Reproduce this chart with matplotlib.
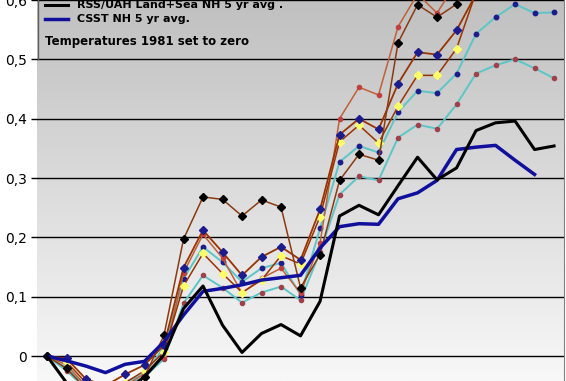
import numpy as np
import matplotlib.pyplot as plt

years = list(range(1981, 2008))

# thick lines (legend entries)
rss_uah_nh = [0.0, -0.045, -0.07, -0.075, -0.06, -0.035, 0.002, 0.08, 0.118, 0.052,
              0.006, 0.038, 0.053, 0.034, 0.092, 0.236, 0.254, 0.238, 0.287, 0.335,
              0.297, 0.317, 0.38, 0.393, 0.396, 0.348, 0.354]
csst_nh = [0.0, -0.008, -0.017, -0.028, -0.014, -0.009, 0.024, 0.069, 0.109, 0.114,
           0.12, 0.128, 0.132, 0.136, 0.182, 0.218, 0.223, 0.222, 0.265, 0.275,
           0.296, 0.348, 0.352, 0.355, 0.33, 0.306, np.nan]

# station series (no legend entry)
brown_black = [0.0, -0.021, -0.055, -0.07, -0.06, -0.035, 0.035, 0.197, 0.268, 0.264,
               0.236, 0.263, 0.251, 0.115, 0.171, 0.296, 0.34, 0.33, 0.528, 0.592,
               0.571, 0.593, 0.65, 0.68, 0.7, 0.68, 0.69]
brown_navy = [0.0, -0.004, -0.039, -0.05, -0.031, -0.015, 0.018, 0.149, 0.212, 0.175,
              0.136, 0.167, 0.184, 0.162, 0.247, 0.373, 0.40, 0.382, 0.459, 0.512,
              0.508, 0.549, 0.61, 0.64, 0.66, 0.65, 0.66]
brown_yellow = [0.0, -0.01, -0.045, -0.06, -0.045, -0.025, 0.007, 0.118, 0.173, 0.139,
                0.107, 0.128, 0.169, 0.155, 0.235, 0.361, 0.389, 0.359, 0.421, 0.473,
                0.473, 0.518, 0.613, 0.64, 0.66, 0.65, 0.66]
orange_red = [0.0, -0.015, -0.05, -0.065, -0.05, -0.03, -0.001, 0.14, 0.205, 0.165,
              0.106, 0.131, 0.148, 0.106, 0.19, 0.40, 0.453, 0.44, 0.555, 0.61,
              0.578, 0.63, 0.68, 0.7, 0.72, 0.7, 0.71]
cyan_navy = [0.0, -0.02, -0.05, -0.06, -0.045, -0.03, 0.015, 0.13, 0.184, 0.158,
             0.125, 0.148, 0.157, 0.103, 0.215, 0.327, 0.354, 0.343, 0.411, 0.447,
             0.443, 0.476, 0.543, 0.571, 0.593, 0.578, 0.579]
cyan_red = [0.0, -0.025, -0.055, -0.065, -0.05, -0.035, -0.005, 0.089, 0.136, 0.115,
            0.09, 0.107, 0.117, 0.094, 0.175, 0.272, 0.303, 0.296, 0.368, 0.39,
            0.383, 0.424, 0.476, 0.49, 0.5, 0.485, 0.468]

yticks = [0.0, 0.1, 0.2, 0.3, 0.4, 0.5, 0.6]
ytick_labels = ["0", "0,1", "0,2", "0,3", "0,4", "0,5", "0,6"]

fig = plt.figure(figsize=(5.66, 3.81), dpi=100)
pos = [37 / 566, 0, (564 - 37) / 566, 1]

# gradient plot background
bg = fig.add_axes(pos, zorder=0)
grad = np.linspace(0, 1, 256).reshape(-1, 1)
bg.imshow(grad, aspect="auto", cmap=plt.matplotlib.colors.LinearSegmentedColormap.from_list(
    "bg", ["#c0c0c0", "#f8f8f8"]), extent=[0, 1, 0, 1], origin="upper")
bg.axis("off")

ax = fig.add_axes(pos, zorder=1)
ax.patch.set_alpha(0)

ax.plot(years, cyan_red, color="#5cc6c6", lw=1.4, marker="o", ms=3,
        mfc="#a0404a", mec="#a0404a")
ax.plot(years, cyan_navy, color="#5cc6c6", lw=1.4, marker="o", ms=3.2,
        mfc="#1c1c8c", mec="#1c1c8c")
ax.plot(years, orange_red, color="#c0603a", lw=1.1, marker="o", ms=3,
        mfc="#c04040", mec="#c04040")
ax.plot(years, brown_yellow, color="#993300", lw=1.1, marker="D", ms=4,
        mfc="#ffff66", mec="#ffff66")
ax.plot(years, brown_navy, color="#993300", lw=1.3, marker="D", ms=4,
        mfc="#1c1c8c", mec="#1c1c8c")
ax.plot(years, brown_black, color="#8b3a10", lw=1.1, marker="D", ms=3.8,
        mfc="black", mec="black")
ax.plot(years, csst_nh, color="#10109c", lw=2.5)
ax.plot(years, rss_uah_nh, color="black", lw=2.2)

ax.set_xlim(1980.487, 2007.51)
ax.set_ylim(-0.0421, 0.6)
ax.set_yticks(yticks)
ax.set_yticklabels(ytick_labels, fontsize=10)
ax.set_xticks([])
ax.grid(True, axis="y", color="black", lw=1)
ax.tick_params(axis="y", length=4, width=1, color="black", pad=3)
for s in ["top", "bottom", "left"]:
    ax.spines[s].set_visible(False)
ax.spines["right"].set_color("#808080")

# legend (left edge of its frame is all that shows)
ax.plot([0.001, 0.001], [0.845, 1.0], transform=ax.transAxes, color="#606060",
        lw=1, zorder=6)
ax.plot([0.015, 0.058], [0.988, 0.988], transform=ax.transAxes, color="black",
        lw=2.2, zorder=6)
ax.plot([0.015, 0.058], [0.951, 0.951], transform=ax.transAxes, color="#10109c",
        lw=2.5, zorder=6)
ax.text(0.075, 0.988, "RSS/UAH Land+Sea NH 5 yr avg .", transform=ax.transAxes,
        fontsize=8, fontweight="bold", va="center", zorder=6)
ax.text(0.075, 0.951, "CSST NH 5 yr avg.", transform=ax.transAxes,
        fontsize=8, fontweight="bold", va="center", zorder=6)
ax.text(0.015, 0.892, "Temperatures 1981 set to zero", transform=ax.transAxes,
        fontsize=8.5, fontweight="bold", va="center", zorder=6)

fig.savefig("out.png", dpi=100)
